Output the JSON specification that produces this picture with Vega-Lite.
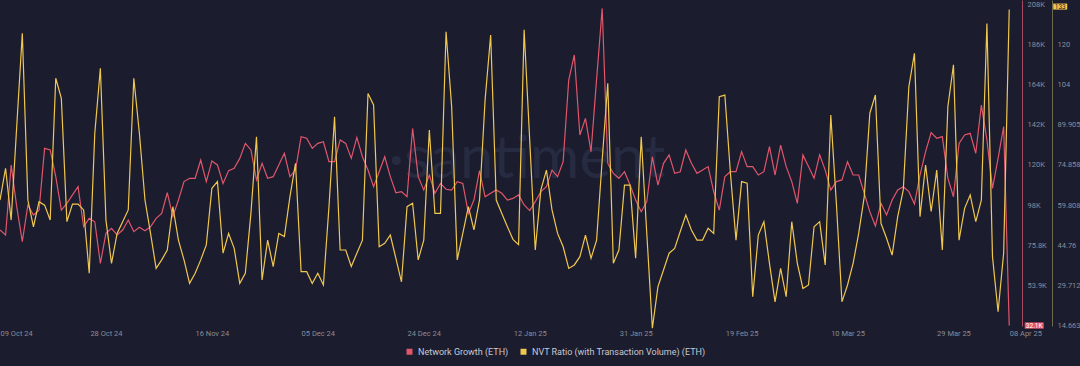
{
  "$schema": "https://vega.github.io/schema/vega-lite/v6.json",
  "width": 1022,
  "height": 326,
  "autosize": {"type": "none"},
  "padding": {"left": 0, "top": 0, "right": 58, "bottom": 40},
  "background": "#1b1c2e",
  "config": {
    "view": {"stroke": null},
    "font": "Roboto",
    "axis": {"grid": false, "ticks": false, "labelFont": "Roboto"}
  },
  "data": {
    "values": [
      {"d":"2024-10-09","ng":84400,"nvt":61.7},
      {"d":"2024-10-10","ng":81700,"nvt":73.6},
      {"d":"2024-10-11","ng":120000,"nvt":54.2},
      {"d":"2024-10-12","ng":97200,"nvt":89.2},
      {"d":"2024-10-13","ng":78000,"nvt":124.1},
      {"d":"2024-10-14","ng":98100,"nvt":61.7},
      {"d":"2024-10-15","ng":92600,"nvt":51.7},
      {"d":"2024-10-16","ng":95300,"nvt":61.1},
      {"d":"2024-10-17","ng":129100,"nvt":59.8},
      {"d":"2024-10-18","ng":128200,"nvt":54.2},
      {"d":"2024-10-19","ng":113600,"nvt":107.3},
      {"d":"2024-10-20","ng":95300,"nvt":99.8},
      {"d":"2024-10-21","ng":99000,"nvt":53.6},
      {"d":"2024-10-22","ng":103600,"nvt":60.2},
      {"d":"2024-10-23","ng":108100,"nvt":60.2},
      {"d":"2024-10-24","ng":86200,"nvt":58.0},
      {"d":"2024-10-25","ng":90800,"nvt":34.3},
      {"d":"2024-10-26","ng":88900,"nvt":86.7},
      {"d":"2024-10-27","ng":66100,"nvt":111.0},
      {"d":"2024-10-28","ng":82600,"nvt":54.2},
      {"d":"2024-10-29","ng":85300,"nvt":38.0},
      {"d":"2024-10-30","ng":81700,"nvt":49.2},
      {"d":"2024-10-31","ng":84400,"nvt":53.6},
      {"d":"2024-11-01","ng":89900,"nvt":58.0},
      {"d":"2024-11-02","ng":83500,"nvt":107.3},
      {"d":"2024-11-03","ng":85900,"nvt":86.7},
      {"d":"2024-11-04","ng":84000,"nvt":61.7},
      {"d":"2024-11-05","ng":86200,"nvt":49.2},
      {"d":"2024-11-06","ng":90800,"nvt":36.1},
      {"d":"2024-11-07","ng":93500,"nvt":39.3},
      {"d":"2024-11-08","ng":104800,"nvt":43.0},
      {"d":"2024-11-09","ng":91700,"nvt":59.2},
      {"d":"2024-11-10","ng":100800,"nvt":46.7},
      {"d":"2024-11-11","ng":110900,"nvt":39.3},
      {"d":"2024-11-12","ng":112700,"nvt":30.5},
      {"d":"2024-11-13","ng":112700,"nvt":34.3},
      {"d":"2024-11-14","ng":122700,"nvt":39.3},
      {"d":"2024-11-15","ng":110900,"nvt":44.9},
      {"d":"2024-11-16","ng":122200,"nvt":66.1},
      {"d":"2024-11-17","ng":120000,"nvt":68.6},
      {"d":"2024-11-18","ng":109900,"nvt":41.8},
      {"d":"2024-11-19","ng":116900,"nvt":49.2},
      {"d":"2024-11-20","ng":118200,"nvt":43.6},
      {"d":"2024-11-21","ng":123600,"nvt":30.5},
      {"d":"2024-11-22","ng":131800,"nvt":34.3},
      {"d":"2024-11-23","ng":128200,"nvt":56.7},
      {"d":"2024-11-24","ng":111800,"nvt":85.4},
      {"d":"2024-11-25","ng":120900,"nvt":31.8},
      {"d":"2024-11-26","ng":112700,"nvt":46.7},
      {"d":"2024-11-27","ng":113600,"nvt":36.8},
      {"d":"2024-11-28","ng":120000,"nvt":49.2},
      {"d":"2024-11-29","ng":126400,"nvt":48.0},
      {"d":"2024-11-30","ng":113600,"nvt":63.0},
      {"d":"2024-12-01","ng":117200,"nvt":75.4},
      {"d":"2024-12-02","ng":135500,"nvt":34.9},
      {"d":"2024-12-03","ng":134600,"nvt":34.9},
      {"d":"2024-12-04","ng":129100,"nvt":30.5},
      {"d":"2024-12-05","ng":131800,"nvt":34.3},
      {"d":"2024-12-06","ng":132700,"nvt":29.9},
      {"d":"2024-12-07","ng":121800,"nvt":59.2},
      {"d":"2024-12-08","ng":121800,"nvt":92.9},
      {"d":"2024-12-09","ng":133700,"nvt":43.0},
      {"d":"2024-12-10","ng":131800,"nvt":43.0},
      {"d":"2024-12-11","ng":123600,"nvt":36.8},
      {"d":"2024-12-12","ng":135100,"nvt":41.8},
      {"d":"2024-12-13","ng":124500,"nvt":46.7},
      {"d":"2024-12-14","ng":117200,"nvt":101.6},
      {"d":"2024-12-15","ng":108100,"nvt":97.3},
      {"d":"2024-12-16","ng":116300,"nvt":44.2},
      {"d":"2024-12-17","ng":124500,"nvt":45.5},
      {"d":"2024-12-18","ng":113600,"nvt":48.6},
      {"d":"2024-12-19","ng":104800,"nvt":39.9},
      {"d":"2024-12-20","ng":105400,"nvt":31.1},
      {"d":"2024-12-21","ng":102600,"nvt":59.2},
      {"d":"2024-12-22","ng":140000,"nvt":60.5},
      {"d":"2024-12-23","ng":113600,"nvt":39.3},
      {"d":"2024-12-24","ng":106300,"nvt":46.7},
      {"d":"2024-12-25","ng":114500,"nvt":87.9},
      {"d":"2024-12-26","ng":104500,"nvt":56.7},
      {"d":"2024-12-27","ng":109900,"nvt":56.7},
      {"d":"2024-12-28","ng":106700,"nvt":124.7},
      {"d":"2024-12-29","ng":106300,"nvt":96.7},
      {"d":"2024-12-30","ng":110900,"nvt":39.3},
      {"d":"2024-12-31","ng":109900,"nvt":49.2},
      {"d":"2025-01-01","ng":93500,"nvt":59.2},
      {"d":"2025-01-02","ng":100800,"nvt":50.5},
      {"d":"2025-01-03","ng":116900,"nvt":61.7},
      {"d":"2025-01-04","ng":102600,"nvt":99.2},
      {"d":"2025-01-05","ng":104500,"nvt":123.5},
      {"d":"2025-01-06","ng":106300,"nvt":61.7},
      {"d":"2025-01-07","ng":104500,"nvt":56.7},
      {"d":"2025-01-08","ng":100800,"nvt":51.7},
      {"d":"2025-01-09","ng":101700,"nvt":47.0},
      {"d":"2025-01-10","ng":103600,"nvt":45.0},
      {"d":"2025-01-11","ng":98100,"nvt":125.4},
      {"d":"2025-01-12","ng":95000,"nvt":84.2},
      {"d":"2025-01-13","ng":99900,"nvt":43.0},
      {"d":"2025-01-14","ng":105400,"nvt":65.5},
      {"d":"2025-01-15","ng":108100,"nvt":72.9},
      {"d":"2025-01-16","ng":117200,"nvt":58.0},
      {"d":"2025-01-17","ng":113600,"nvt":49.2},
      {"d":"2025-01-18","ng":121800,"nvt":44.2},
      {"d":"2025-01-19","ng":166500,"nvt":36.1},
      {"d":"2025-01-20","ng":180200,"nvt":37.4},
      {"d":"2025-01-21","ng":136400,"nvt":40.5},
      {"d":"2025-01-22","ng":145500,"nvt":48.6},
      {"d":"2025-01-23","ng":127300,"nvt":39.9},
      {"d":"2025-01-24","ng":167000,"nvt":46.7},
      {"d":"2025-01-25","ng":205700,"nvt":76.7},
      {"d":"2025-01-26","ng":120900,"nvt":105.4},
      {"d":"2025-01-27","ng":115400,"nvt":38.0},
      {"d":"2025-01-28","ng":112700,"nvt":43.0},
      {"d":"2025-01-29","ng":116300,"nvt":67.3},
      {"d":"2025-01-30","ng":109000,"nvt":67.3},
      {"d":"2025-01-31","ng":100800,"nvt":39.9},
      {"d":"2025-02-01","ng":94400,"nvt":85.4},
      {"d":"2025-02-02","ng":99900,"nvt":49.2},
      {"d":"2025-02-03","ng":124500,"nvt":13.7},
      {"d":"2025-02-04","ng":109000,"nvt":29.3},
      {"d":"2025-02-05","ng":120900,"nvt":35.5},
      {"d":"2025-02-06","ng":125500,"nvt":41.8},
      {"d":"2025-02-07","ng":115400,"nvt":43.6},
      {"d":"2025-02-08","ng":116300,"nvt":49.9},
      {"d":"2025-02-09","ng":128200,"nvt":56.1},
      {"d":"2025-02-10","ng":120900,"nvt":50.5},
      {"d":"2025-02-11","ng":115400,"nvt":46.7},
      {"d":"2025-02-12","ng":117200,"nvt":46.7},
      {"d":"2025-02-13","ng":119100,"nvt":51.1},
      {"d":"2025-02-14","ng":105400,"nvt":49.2},
      {"d":"2025-02-15","ng":95300,"nvt":100.4},
      {"d":"2025-02-16","ng":113600,"nvt":101.0},
      {"d":"2025-02-17","ng":116300,"nvt":71.7},
      {"d":"2025-02-18","ng":116300,"nvt":46.7},
      {"d":"2025-02-19","ng":127300,"nvt":68.6},
      {"d":"2025-02-20","ng":119100,"nvt":68.0},
      {"d":"2025-02-21","ng":119100,"nvt":25.5},
      {"d":"2025-02-22","ng":114500,"nvt":48.6},
      {"d":"2025-02-23","ng":116300,"nvt":53.6},
      {"d":"2025-02-24","ng":130000,"nvt":38.0},
      {"d":"2025-02-25","ng":114500,"nvt":23.6},
      {"d":"2025-02-26","ng":130900,"nvt":36.1},
      {"d":"2025-02-27","ng":119100,"nvt":25.5},
      {"d":"2025-02-28","ng":110900,"nvt":53.6},
      {"d":"2025-03-01","ng":99000,"nvt":38.0},
      {"d":"2025-03-02","ng":125500,"nvt":28.6},
      {"d":"2025-03-03","ng":119100,"nvt":29.9},
      {"d":"2025-03-04","ng":112700,"nvt":51.7},
      {"d":"2025-03-05","ng":125500,"nvt":53.6},
      {"d":"2025-03-06","ng":117200,"nvt":37.4},
      {"d":"2025-03-07","ng":106300,"nvt":93.5},
      {"d":"2025-03-08","ng":110900,"nvt":60.5},
      {"d":"2025-03-09","ng":111800,"nvt":23.6},
      {"d":"2025-03-10","ng":121800,"nvt":29.9},
      {"d":"2025-03-11","ng":114500,"nvt":38.0},
      {"d":"2025-03-12","ng":114500,"nvt":49.2},
      {"d":"2025-03-13","ng":104500,"nvt":63.0},
      {"d":"2025-03-14","ng":94400,"nvt":94.2},
      {"d":"2025-03-15","ng":86600,"nvt":101.0},
      {"d":"2025-03-16","ng":99000,"nvt":53.0},
      {"d":"2025-03-17","ng":92600,"nvt":47.4},
      {"d":"2025-03-18","ng":100800,"nvt":41.1},
      {"d":"2025-03-19","ng":106300,"nvt":55.5},
      {"d":"2025-03-20","ng":108100,"nvt":65.5},
      {"d":"2025-03-21","ng":105400,"nvt":104.1},
      {"d":"2025-03-22","ng":98600,"nvt":116.6},
      {"d":"2025-03-23","ng":114500,"nvt":55.5},
      {"d":"2025-03-24","ng":127300,"nvt":74.8},
      {"d":"2025-03-25","ng":137700,"nvt":57.4},
      {"d":"2025-03-26","ng":134600,"nvt":72.9},
      {"d":"2025-03-27","ng":135500,"nvt":43.0},
      {"d":"2025-03-28","ng":112700,"nvt":96.7},
      {"d":"2025-03-29","ng":102600,"nvt":112.3},
      {"d":"2025-03-30","ng":131800,"nvt":46.7},
      {"d":"2025-03-31","ng":136400,"nvt":58.6},
      {"d":"2025-04-01","ng":137300,"nvt":63.6},
      {"d":"2025-04-02","ng":126400,"nvt":53.6},
      {"d":"2025-04-03","ng":152800,"nvt":61.7},
      {"d":"2025-04-04","ng":133700,"nvt":127.8},
      {"d":"2025-04-05","ng":107200,"nvt":40.5},
      {"d":"2025-04-06","ng":123600,"nvt":19.9},
      {"d":"2025-04-07","ng":141000,"nvt":41.8},
      {"d":"2025-04-08","ng":32100,"nvt":133}
    ]
  },
  "encoding": {
    "x": {
      "field": "d",
      "type": "temporal",
      "scale": {
        "type": "utc",
        "domain": [
          {"year": 2024, "month": 10, "date": 9, "utc": true},
          {"year": 2025, "month": 4, "date": 10, "hours": 7, "utc": true}
        ]
      },
      "axis": {
        "title": null,
        "domain": false,
        "ticks": false,
        "grid": false,
        "format": "%d %b %y",
        "labelColor": "#8a8c98",
        "labelFontSize": 7.5,
        "labelPadding": 3,
        "labelFlush": false,
        "labelOverlap": false,
        "labelAlign": {"condition": {"test": "datum.index == 0 || datum.index == 1", "value": "left"}, "value": "center"},
        "values": [
          {"year": 2024, "month": 10, "date": 9, "utc": true},
          {"year": 2024, "month": 10, "date": 28, "utc": true},
          {"year": 2024, "month": 11, "date": 16, "utc": true},
          {"year": 2024, "month": 12, "date": 5, "utc": true},
          {"year": 2024, "month": 12, "date": 24, "utc": true},
          {"year": 2025, "month": 1, "date": 12, "utc": true},
          {"year": 2025, "month": 1, "date": 31, "utc": true},
          {"year": 2025, "month": 2, "date": 19, "utc": true},
          {"year": 2025, "month": 3, "date": 10, "utc": true},
          {"year": 2025, "month": 3, "date": 29, "utc": true},
          {"year": 2025, "month": 4, "date": 8, "utc": true}
        ]
      }
    }
  },
  "layer": [
    {
      "layer": [
        {
          "transform": [{"filter": "utcFormat(toDate(datum.d), '%Y-%m-%d') === '2025-01-11'"}],
          "mark": {"type": "text", "font": "Lato", "fontSize": 60, "color": "#272b42", "align": "center", "baseline": "middle", "xOffset": 3},
          "encoding": {
            "y": {"datum": 122700, "type": "quantitative"},
            "text": {"value": "·santiment"}
          }
        },
        {
          "mark": {"type": "line", "strokeWidth": 1.2, "interpolate": "linear"},
          "encoding": {
            "y": {
              "field": "ng",
              "type": "quantitative",
              "scale": {"domain": [31850, 210300], "zero": false, "nice": false},
              "axis": {
                "orient": "right",
                "offset": 0,
                "title": null,
                "grid": false,
                "ticks": false,
                "domainColor": "#a84a62",
                "domainWidth": 1,
                "labelColor": "#8a8c98",
                "labelFontSize": 7.5,
                "labelPadding": 5,
                "values": [53900, 75800, 98000, 120000, 142000, 164000, 186000, 208000],
                "labelExpr": "replace(format(datum.value, '.3~s'), 'k', 'K')"
              }
            },
            "color": {
              "datum": "Network Growth (ETH)",
              "scale": {
                "domain": ["Network Growth (ETH)", "NVT Ratio (with Transaction Volume) (ETH)"],
                "range": ["#e0566b", "#f0c74f"]
              },
              "legend": {
                "orient": "none",
                "legendX": 405,
                "legendY": 347,
                "direction": "horizontal",
                "title": null,
                "symbolType": "square",
                "symbolSize": 36,
                "symbolStrokeWidth": 0,
                "labelColor": "#c8c9d2",
                "labelFont": "Roboto",
                "labelFontSize": 9,
                "labelLimit": 400,
                "labelOffset": 4,
                "columnPadding": 10,
                "encode": {"symbols": {"update": {"fill": {"scale": "color", "field": "value"}, "stroke": {"value": "transparent"}}}}
              }
            }
          }
        },
        {
          "transform": [{"filter": "utcFormat(toDate(datum.d), '%Y-%m-%d') === '2025-04-08'"}],
          "mark": {"type": "point", "shape": "M-1,-0.33H1V0.33H-1Z", "filled": true, "color": "#e8566a", "opacity": 1, "size": 361, "strokeWidth": 0, "xOffset": 25},
          "encoding": {
            "y": {"field": "ng", "type": "quantitative"}
          }
        },
        {
          "transform": [
            {"filter": "utcFormat(toDate(datum.d), '%Y-%m-%d') === '2025-04-08'"},
            {"calculate": "replace(format(datum.ng, '.3~s'), 'k', 'K')", "as": "lbl"}
          ],
          "mark": {"type": "text", "color": "#ffffff", "fontSize": 6.5, "font": "Roboto", "align": "center", "baseline": "middle", "xOffset": 25},
          "encoding": {
            "y": {"field": "ng", "type": "quantitative"},
            "text": {"field": "lbl", "type": "nominal"}
          }
        }
      ]
    },
    {
      "layer": [
        {
          "mark": {"type": "line", "strokeWidth": 1.2, "interpolate": "linear"},
          "encoding": {
            "y": {
              "field": "nvt",
              "type": "quantitative",
              "scale": {"domain": [14.55, 136.58], "zero": false, "nice": false},
              "axis": {
                "orient": "right",
                "offset": 30,
                "title": null,
                "grid": false,
                "ticks": false,
                "domainColor": "#6d6a4c",
                "domainWidth": 1,
                "labelColor": "#8a8c98",
                "labelFontSize": 7.5,
                "labelPadding": 5,
                "values": [14.663, 29.712, 44.76, 59.808, 74.858, 89.905, 104.953, 120.001],
                "labelExpr": "datum.value > 100 ? format(floor(datum.value), 'd') : format(datum.value, '.5~g')"
              }
            },
            "color": {"datum": "NVT Ratio (with Transaction Volume) (ETH)"}
          }
        },
        {
          "transform": [{"filter": "utcFormat(toDate(datum.d), '%Y-%m-%d') === '2025-04-08'"}],
          "mark": {"type": "point", "shape": "M-1,-0.43H1V0.43H-1Z", "filled": true, "color": "#f0c74f", "opacity": 1, "size": 196, "strokeWidth": 0, "xOffset": 51, "yOffset": -3},
          "encoding": {
            "y": {"field": "nvt", "type": "quantitative"}
          }
        },
        {
          "transform": [{"filter": "utcFormat(toDate(datum.d), '%Y-%m-%d') === '2025-04-08'"}],
          "mark": {"type": "text", "color": "#1b1c2e", "fontSize": 6.5, "font": "Roboto", "align": "center", "baseline": "middle", "xOffset": 51, "yOffset": -3},
          "encoding": {
            "y": {"field": "nvt", "type": "quantitative"},
            "text": {"field": "nvt", "type": "quantitative", "format": "d"}
          }
        }
      ]
    }
  ],
  "resolve": {"scale": {"y": "independent"}}
}
